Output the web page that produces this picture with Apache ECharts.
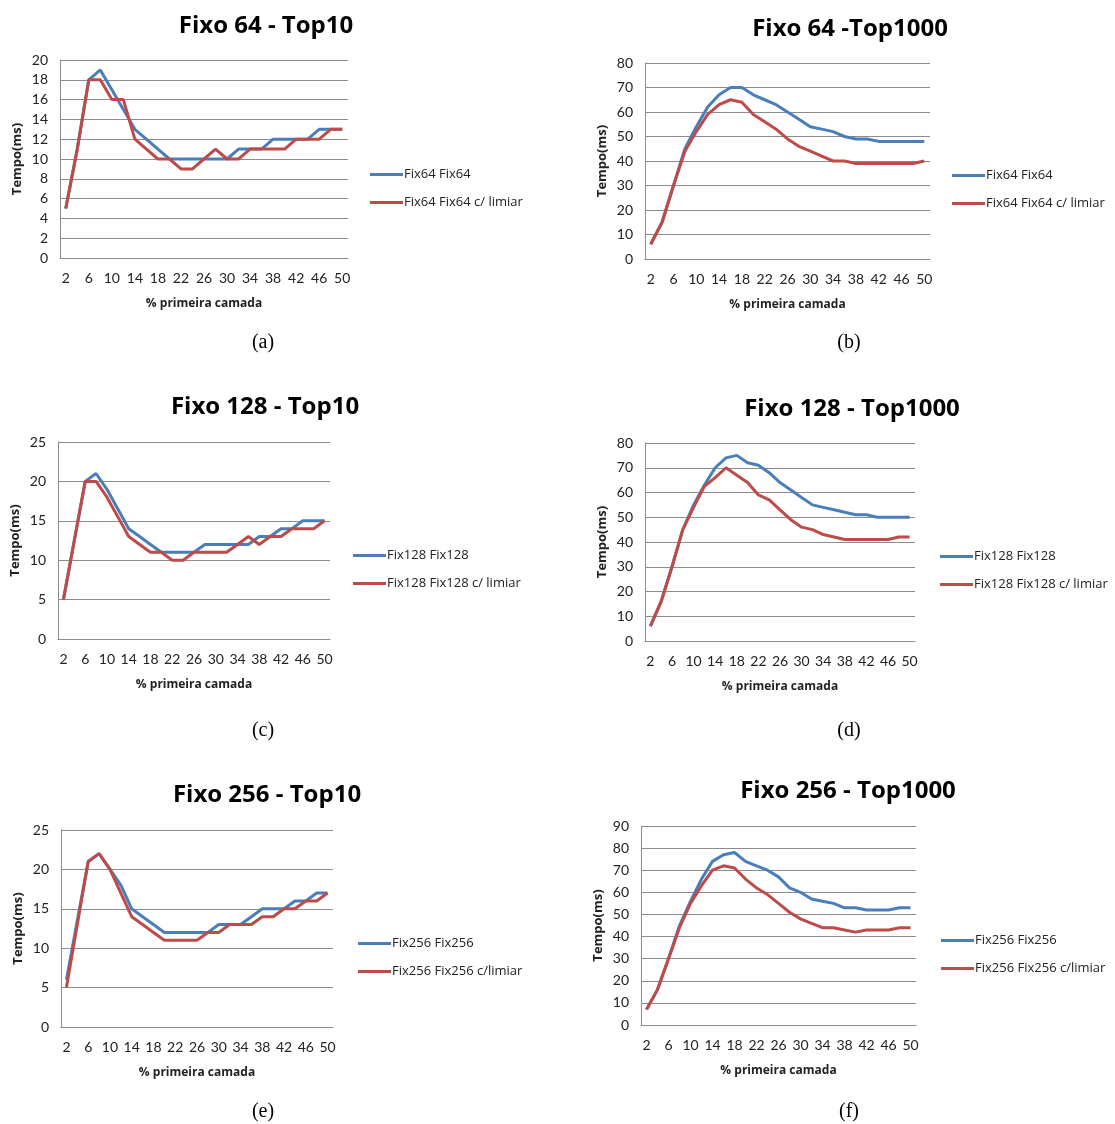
<!DOCTYPE html>
<html>
<head>
<meta charset="utf-8">
<script src="https://cdn.jsdelivr.net/npm/echarts@6/dist/echarts.min.js"></script>
<style>
html,body{margin:0;padding:0;background:#fff;}
#c{width:1115px;height:1124px;}
</style>
</head>
<body>
<div id="c"></div>
<script>
const categories = ['2','4','6','8','10','12','14','16','18','20','22','24','26','28','30','32','34','36','38','40','42','44','46','48','50'];

const a_fix = [5,11,18,19,17,15,13,12,11,10,10,10,10,10,10,11,11,11,12,12,12,12,13,13,13];
const a_lim = [5,11,18,18,16,16,12,11,10,10,9,9,10,11,10,10,11,11,11,11,12,12,12,13,13];

const b_fix = [6,15,30,45,54,62,67,70,70,67,65,63,60,57,54,53,52,50,49,49,48,48,48,48,48];
const b_lim = [6,15,30,44,52,59,63,65,64,59,56,53,49,46,44,42,40,40,39,39,39,39,39,39,40];

const c_fix = [5,12.5,20,21,19,16.5,14,13,12,11,11,11,11,12,12,12,12,12,13,13,14,14,15,15,15];
const c_lim = [5,12.5,20,20,18,15.5,13,12,11,11,10,10,11,11,11,11,12,13,12,13,13,14,14,14,15];

const d_fix = [6,16,30,45,55,63,70,74,75,72,71,68,64,61,58,55,54,53,52,51,51,50,50,50,50];
const d_lim = [6,16,30,45,54,62.5,66,70,67,64,59,57,53,49,46,45,43,42,41,41,41,41,41,42,42];

const e_fix = [6,13.5,21,22,20,18,15,14,13,12,12,12,12,12,13,13,13,14,15,15,15,16,16,17,17];
const e_lim = [5,13,21,22,20,17,14,13,12,11,11,11,11,12,12,13,13,13,14,14,15,15,16,16,17];

const f_fix = [7,16,30,45,56,66,74,77,78,74,72,70,67,62,60,57,56,55,53,53,52,52,52,53,53];
const f_lim = [7,16,30,44,55,63,70,72,71,66,62,59,55,51,48,46,44,44,43,42,43,43,43,44,44];

const titles = ['Fixo 64 - Top10','Fixo 64 -Top1000','Fixo 128 - Top10','Fixo 128 - Top1000','Fixo 256 - Top10','Fixo 256 - Top1000'];
const captions = ['(a)','(b)','(c)','(d)','(e)','(f)'];
const seriesNames = [
  ['Fix64 Fix64','Fix64 Fix64 c/ limiar'],
  ['Fix64 Fix64','Fix64 Fix64 c/ limiar'],
  ['Fix128 Fix128','Fix128 Fix128 c/ limiar'],
  ['Fix128 Fix128','Fix128 Fix128 c/ limiar'],
  ['Fix256 Fix256','Fix256 Fix256 c/limiar'],
  ['Fix256 Fix256','Fix256 Fix256 c/limiar']
];
const yMax = [20,80,25,80,25,90];
const yStep = [2,10,5,10,5,10];
const xName = '% primeira camada';
const yName = 'Tempo(ms)';

const dataSets = [[a_fix,a_lim],[b_fix,b_lim],[c_fix,c_lim],[d_fix,d_lim],[e_fix,e_lim],[f_fix,f_lim]];

// layout
const grids = [
  {left:60, top:60, width:288, height:198},
  {left:645, top:63, width:285, height:196},
  {left:58, top:442, width:272, height:197},
  {left:645, top:443, width:270, height:198},
  {left:61, top:830, width:272, height:197},
  {left:641, top:826, width:275, height:199}
];
const titlePos = [[266,26],[850,29],[265,407],[852,409],[267,795],[848,791]];
const captionPos = [[263,343],[849,343],[263,731],[849,731],[263,1112],[849,1112]];
const legendPos = [[370,168],[952,169],[353,549],[940,550],[358,937],[941,934]];

const FONT = 'Lato, "Open Sans", sans-serif';
const FONT2 = '"Open Sans", Lato, sans-serif';
const BLUE = '#4A7EBB', RED = '#BE4B48', GRIDC = '#8c8c8c';

const xAxes = [], yAxes = [], series = [], legends = [], graphics = [];
for (let i = 0; i < 6; i++) {
  xAxes.push({
    type:'category', gridIndex:i, data:categories, boundaryGap:true,
    axisTick:{show:false},
    axisLine:{lineStyle:{color:GRIDC, width:1}},
    axisLabel:{interval:1, color:'#222', fontSize:14, margin:13, fontFamily:FONT},
    name:xName, nameLocation:'middle', nameGap:40,
    nameTextStyle:{fontWeight:'bold', fontSize:12, color:'#222', fontFamily:FONT2}
  });
  yAxes.push({
    type:'value', gridIndex:i, min:0, max:yMax[i], interval:yStep[i],
    axisLine:{show:true, lineStyle:{color:GRIDC, width:1}},
    axisTick:{show:false},
    splitLine:{show:true, lineStyle:{color:GRIDC, width:1}},
    axisLabel:{color:'#222', fontSize:14, margin:12, fontFamily:FONT},
    name:yName, nameLocation:'middle', nameGap:36, nameRotate:90,
    nameTextStyle:{fontWeight:'bold', fontSize:13, color:'#222', fontFamily:FONT2}
  });
  const cols = [BLUE, RED];
  for (let k = 0; k < 2; k++) {
    series.push({
      type:'line', name:seriesNames[i][k], xAxisIndex:i, yAxisIndex:i,
      data:dataSets[i][k], symbol:'none', smooth:false,
      lineStyle:{width:3, color:cols[k]}, itemStyle:{color:cols[k]},
      z: k===0 ? 2 : 3
    });
  }
  legends.push({
    left:legendPos[i][0], top:legendPos[i][1], orient:'vertical', padding:0,
    icon:'rect', itemWidth:33, itemHeight:3, itemGap:15, selectedMode:false,
    data:seriesNames[i],
    textStyle:{fontSize:13, color:'#222', fontFamily:FONT2, padding:[0,0,0,-4]}
  });
  graphics.push({
    type:'text', x:titlePos[i][0], y:titlePos[i][1],
    style:{text:titles[i], textAlign:'center', textVerticalAlign:'middle',
      font:'bold 24px ' + FONT2, fill:'#000'}
  });
  graphics.push({
    type:'text', x:captionPos[i][0], y:captionPos[i][1],
    style:{text:captions[i], textAlign:'center', textVerticalAlign:'middle',
      font:'20px "Liberation Serif", "Times New Roman", serif', fill:'#000'}
  });
}

const chart = echarts.init(document.getElementById('c'), null, {renderer:'canvas'});
chart.setOption({
  backgroundColor:'#fff',
  animation:false,
  grid:grids,
  xAxis:xAxes,
  yAxis:yAxes,
  series:series,
  legend:legends,
  graphic:graphics
});
</script>
</body>
</html>
